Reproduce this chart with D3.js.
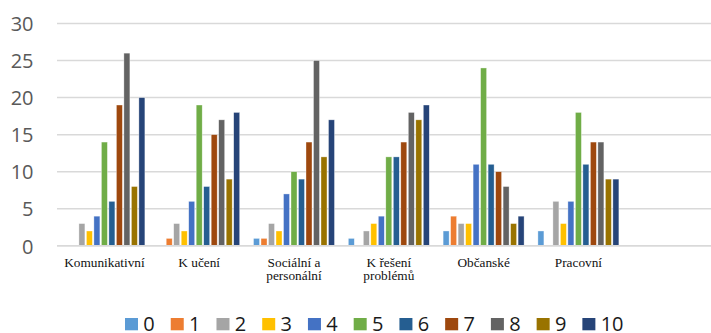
<!DOCTYPE html>
<html>
<head>
<meta charset="utf-8">
<script src="https://cdn.jsdelivr.net/npm/d3@7"></script>
<style>
  html, body { margin: 0; padding: 0; background: #fff; overflow: hidden; }
  svg { display: block; }
</style>
</head>
<body>
<svg id="chart" width="711" height="333"></svg>
<script>
// ---- data ----
const categories = ["Komunikativní", "K učení", "Sociální a personální", "K řešení problémů", "Občanské", "Pracovní"];
const seriesNames = ["0", "1", "2", "3", "4", "5", "6", "7", "8", "9", "10"];
const s0  = [0, 0, 1, 1, 2, 2];
const s1  = [0, 1, 1, 0, 4, 0];
const s2  = [3, 3, 3, 2, 3, 6];
const s3  = [2, 2, 2, 3, 3, 3];
const s4  = [4, 6, 7, 4, 11, 6];
const s5  = [14, 19, 10, 12, 24, 18];
const s6  = [6, 8, 9, 12, 11, 11];
const s7  = [19, 15, 14, 14, 10, 14];
const s8  = [26, 17, 25, 18, 8, 14];
const s9  = [8, 9, 12, 17, 3, 9];
const s10 = [20, 18, 17, 19, 4, 9];
const yTicks = [0, 5, 10, 15, 20, 25, 30];
const colors = ["#5B9BD5", "#ED7D31", "#A5A5A5", "#FFC000", "#4472C4", "#70AD47", "#255E91", "#9E480E", "#636363", "#997300", "#264478"];

const seriesValues = [s0, s1, s2, s3, s4, s5, s6, s7, s8, s9, s10];

// ---- layout ----
const svg = d3.select("#chart");
const plotLeft = 57, plotRight = 720.6, plotTop = 23.5, plotBottom = 245.8;

// an extra empty slot at the right end (as in the original plot area)
const domain = categories.concat([""]);
const x0 = d3.scaleBand().domain(domain).range([plotLeft, plotRight]).paddingInner(0.13).paddingOuter(0.065);
const x1 = d3.scaleBand().domain(seriesNames).range([0, x0.bandwidth()]).padding(0);
const y = d3.scaleLinear().domain([0, 30]).range([plotBottom, plotTop]);

// gridlines
svg.append("g").selectAll("line").data(yTicks).join("line")
  .attr("x1", plotLeft).attr("x2", 711)
  .attr("y1", d => y(d)).attr("y2", d => y(d))
  .attr("stroke", "#d9d9d9").attr("stroke-width", 1.5);

// y-axis labels
const yAxis = d3.axisLeft(y).tickValues(yTicks).tickSize(0).tickPadding(0);
const yg = svg.append("g").attr("transform", "translate(33.5,0)").call(yAxis);
yg.select(".domain").remove();
yg.selectAll("text")
  .attr("font-family", "'Open Sans', sans-serif")
  .attr("font-size", 20)
  .attr("fill", "#595959")
  .attr("dy", "0.36em");

// bars
const groups = svg.append("g").selectAll("g").data(categories).join("g")
  .attr("transform", d => `translate(${x0(d)},0)`);
groups.selectAll("rect")
  .data((c, ci) => seriesNames.map((s, si) => ({ s, si, v: seriesValues[si][ci] })))
  .join("rect")
  .filter(d => d.v > 0)
  .attr("x", d => x1(d.s) + 0.75)
  .attr("width", x1.bandwidth() - 1.5)
  .attr("y", d => y(d.v))
  .attr("height", d => y(0) - y(d.v))
  .attr("fill", d => colors[d.si])
  .attr("stroke", "#ffffff")
  .attr("stroke-opacity", 0.6)
  .attr("stroke-width", 0.6);

// x-axis baseline
svg.append("line")
  .attr("x1", plotLeft).attr("x2", 711)
  .attr("y1", y(0)).attr("y2", y(0))
  .attr("stroke", "#d9d9d9").attr("stroke-width", 1.5);

// x labels (wrapped)
const xAxis = d3.axisBottom(x0).tickSize(0).tickPadding(0);
const xg = svg.append("g").attr("transform", `translate(0,${y(0)})`).call(xAxis);
xg.select(".domain").remove();
xg.selectAll("text")
  .attr("font-family", "'Liberation Serif', 'Times New Roman', serif")
  .attr("font-size", 13.3)
  .attr("fill", "#111")
  .attr("y", 20.8)
  .attr("dy", 0)
  .each(function () {
    const t = d3.select(this);
    const words = t.text().split(" ");
    t.text(null);
    const maxW = 86;
    let line = [];
    let lineNo = 0;
    let tspan = t.append("tspan").attr("x", 0).attr("dy", 0);
    words.forEach(w => {
      line.push(w);
      tspan.text(line.join(" "));
      if (tspan.node().getComputedTextLength() > maxW && line.length > 1) {
        line.pop();
        tspan.text(line.join(" "));
        line = [w];
        lineNo++;
        tspan = t.append("tspan").attr("x", 0).attr("dy", 13.8).text(w);
      }
    });
  });

// legend
const legend = svg.append("g");
let lx = 125;
seriesNames.forEach((s, i) => {
  legend.append("rect")
    .attr("x", lx).attr("y", 318)
    .attr("width", 13).attr("height", 12.3)
    .attr("fill", colors[i]);
  const txt = legend.append("text")
    .attr("x", lx + 18.3).attr("y", 330.6)
    .attr("font-family", "'Open Sans', sans-serif")
    .attr("font-size", 20)
    .attr("fill", "#1a1a1a")
    .text(s);
  lx += 18.3 + txt.node().getComputedTextLength() + 16;
});
</script>
</body>
</html>
